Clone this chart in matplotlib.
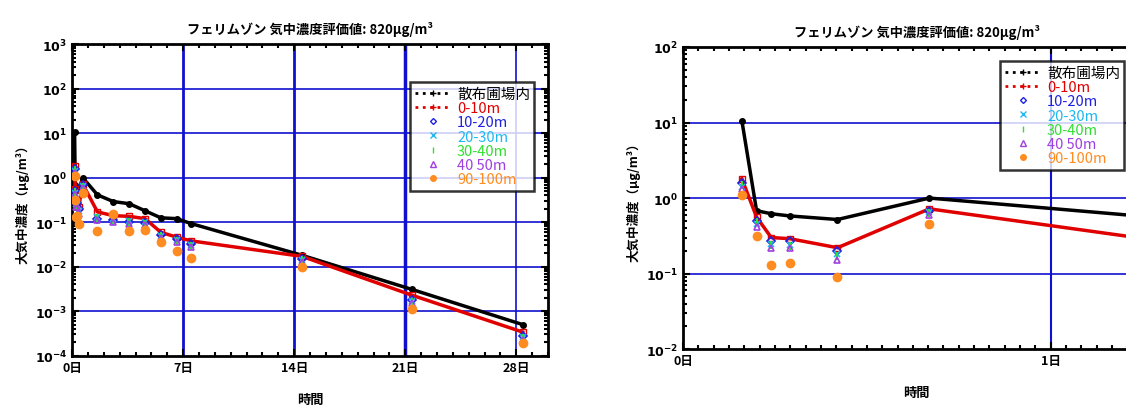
import numpy as np
import matplotlib
matplotlib.use('Agg')
import matplotlib.pyplot as plt
from matplotlib.lines import Line2D
from matplotlib.ticker import FixedLocator, LogLocator, NullFormatter

plt.rcParams['font.family'] = ['Noto Sans CJK JP', 'DejaVu Sans']

# sampling times (days after application)
t = [0.16, 0.20, 0.24, 0.29, 0.42, 0.67, 1.6, 2.6, 3.6, 4.6, 5.6, 6.6, 7.5, 14.5, 21.4, 28.4]

# concentrations (ug/m3)
field = [10.6, 0.68, 0.62, 0.58, 0.52, 1.0, 0.41, 0.29, 0.26, 0.18, 0.125, 0.12, 0.093, 0.018, 0.0031, 0.00050]
d0_10 = [1.8, 0.56, 0.30, 0.29, 0.22, 0.72, 0.17, 0.14, 0.135, 0.12, 0.059, 0.046, 0.038, 0.017, 0.0023, 0.00034]
d10_20 = [1.6, 0.50, 0.27, 0.27, 0.20, 0.68, 0.12, 0.11, 0.10, 0.095, 0.052, 0.042, 0.033, 0.015, 0.0018, 0.00028]
d20_30 = [1.4, 0.45, 0.25, 0.24, 0.18, 0.65, 0.13, 0.115, 0.105, 0.10, 0.050, 0.040, 0.030, 0.014, 0.0017, 0.00026]
d30_40 = [1.5, 0.48, 0.24, 0.23, 0.17, 0.63, 0.125, 0.11, 0.10, 0.09, 0.048, 0.038, 0.029, 0.014, 0.0016, 0.00025]
d40_50 = [1.3, 0.42, 0.22, 0.22, 0.15, 0.60, 0.11, 0.10, 0.09, 0.085, 0.045, 0.035, 0.027, 0.013, 0.0015, 0.00023]
d90_100 = [1.1, 0.31, 0.13, 0.14, 0.09, 0.45, 0.063, 0.15, 0.062, 0.066, 0.035, 0.023, 0.016, 0.0097, 0.0011, 0.00019]

labels = ['散布圃場内', '0-10m', '10-20m', '20-30m', '30-40m', '40 50m', '90-100m']
colors = ['black', '#e00000', '#2020e0', '#20b8f0', '#30e030', '#a040e0', '#ff8c20']

title = 'フェリムゾン 気中濃度評価値: 820μg/m³'
BLUE = '#1010d0'


def draw_panel(ax, xlim, ylim_exp, xticks, xticklabels, xminor, vgrid, hgrid):
    ax.set_yscale('log')
    ax.plot(t, field, color='black', lw=2.5, marker='o', ms=4, zorder=5)
    ax.plot(t, d0_10, color=colors[1], lw=2.5, marker='s', ms=5, mfc='none', zorder=5)
    ax.plot(t, d10_20, ls='none', marker='D', ms=4, mfc='none', mec=colors[2], mew=1.2, zorder=6)
    ax.plot(t, d20_30, ls='none', marker='x', ms=5, mec=colors[3], mew=1.2, zorder=6)
    ax.plot(t, d30_40, ls='none', marker='|', ms=6, mec=colors[4], mew=1.5, zorder=6)
    ax.plot(t, d40_50, ls='none', marker='^', ms=5, mfc='none', mec=colors[5], mew=1.2, zorder=6)
    ax.plot(t, d90_100, ls='none', marker='o', ms=6, color=colors[6], zorder=6)

    for x, w in vgrid:
        ax.axvline(x, color=BLUE, lw=w, zorder=1)
    for y in hgrid:
        ax.axhline(y, color=BLUE, lw=1.2, zorder=1)

    ax.set_xlim(*xlim)
    ax.set_ylim(10.0 ** ylim_exp[0], 10.0 ** ylim_exp[1])
    ax.set_xticks(xticks)
    ax.set_xticklabels(xticklabels, fontsize=9, fontweight='bold')
    ax.xaxis.set_minor_locator(FixedLocator(xminor))
    exps = np.arange(ylim_exp[0], ylim_exp[1] + 1)
    ax.set_yticks(10.0 ** exps)
    ax.set_yticklabels([r'$\mathbf{10^{%d}}$' % e for e in exps], fontsize=9)
    ax.yaxis.set_minor_locator(LogLocator(base=10, subs=np.arange(2, 10)))
    ax.yaxis.set_minor_formatter(NullFormatter())
    ax.tick_params(which='both', direction='in', top=True, right=True, width=1.5)
    ax.tick_params(which='major', length=5)
    ax.tick_params(which='minor', length=3)
    for s in ax.spines.values():
        s.set_linewidth(2)

    ax.set_title(title, fontsize=9.5, fontweight='bold', pad=8)
    ax.set_ylabel('大気中濃度（μg/m³）', fontsize=9, fontweight='bold')
    ax.set_xlabel('時間', fontsize=9.5, fontweight='bold', labelpad=13)

    handles = [
        Line2D([], [], color='black', ls=':', lw=2, marker='+', ms=5),
        Line2D([], [], color=colors[1], ls=':', lw=2, marker='+', ms=5),
        Line2D([], [], ls='none', marker='D', ms=3, mfc='none', mec=colors[2]),
        Line2D([], [], ls='none', marker='x', ms=4, mec=colors[3]),
        Line2D([], [], ls='none', marker='|', ms=4, mec=colors[4]),
        Line2D([], [], ls='none', marker='^', ms=4, mfc='none', mec=colors[5]),
        Line2D([], [], ls='none', marker='o', ms=4, color=colors[6]),
    ]
    return handles


fig = plt.figure(figsize=(11.26, 4.10), dpi=100)
ax1 = fig.add_axes([0.0640, 0.130, 0.4227, 0.760])
ax2 = fig.add_axes([0.6066, 0.146, 0.4147, 0.737])

h = draw_panel(ax1, (0, 30), (-4, 3), [0, 7, 14, 21, 28],
               ['0日', '7日', '14日', '21日', '28日'], np.arange(0, 31, 1),
               [(7, 2), (14, 2), (21, 2.5), (28, 1.2)],
               [1e2, 1e1, 1e0, 1e-1, 1e-2, 1e-3])
leg1 = ax1.legend(h, labels, loc='upper left', bbox_to_anchor=(403 / 1126, 1 - 76 / 410),
                  bbox_transform=fig.transFigure,
                  fontsize=10.5, frameon=True, fancybox=False, handlelength=2.5,
                  borderpad=0.3, labelspacing=0.02, handletextpad=0.4)

h = draw_panel(ax2, (0, 1.27), (-2, 2), [0, 1], ['0日', '1日'],
               np.arange(0, 1.3, 1 / 24), [(1, 1.5)], [1e1, 1e0, 1e-1])
leg2 = ax2.legend(h, labels, loc='upper left', bbox_to_anchor=(993 / 1126, 1 - 55 / 410),
                  bbox_transform=fig.transFigure,
                  fontsize=10.5, frameon=True, fancybox=False, handlelength=2.5,
                  borderpad=0.3, labelspacing=0.02, handletextpad=0.4)

for leg in (leg1, leg2):
    leg.get_frame().set_edgecolor('black')
    leg.get_frame().set_linewidth(1.8)
    leg.set_zorder(10)
    for txt, c in zip(leg.get_texts(), colors):
        txt.set_color(c)

fig.savefig('out.png', dpi=100)
